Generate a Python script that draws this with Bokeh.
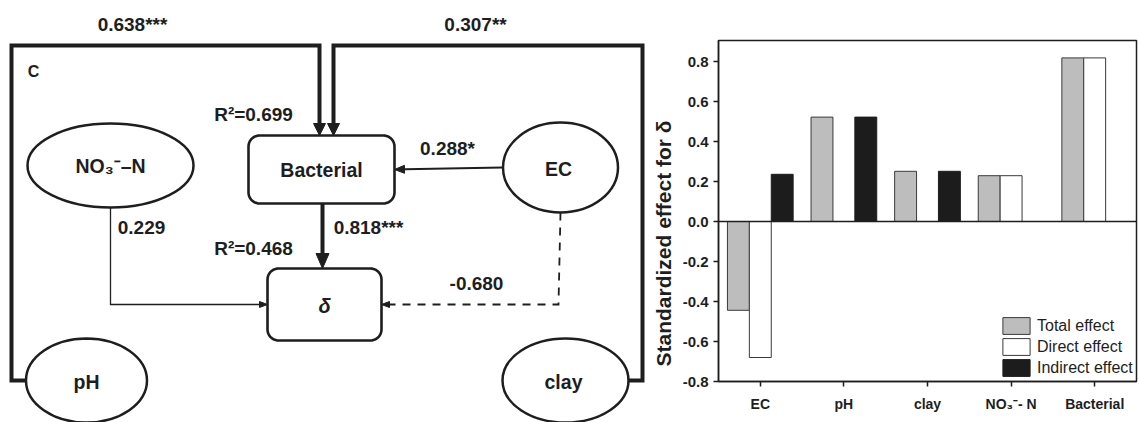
import numpy as np
from bokeh.plotting import figure
from bokeh.models import (Range1d, FixedTicker, NumeralTickFormatter, Legend, LegendItem,
                          Label, ColumnDataSource, LinearAxis)
from bokeh.core.properties import value
from bokeh.embed import file_html
from bokeh.resources import INLINE

# ---------------- data: standardized effects for delta (bar chart) ----------------
categories = ["EC", "pH", "clay", "NO₃⁻- N", "Bacterial"]
total_effect = [-0.444, 0.522, 0.251, 0.229, 0.818]
direct_effect = [-0.680, 0.0, 0.0, 0.229, 0.818]
indirect_effect = [0.236, 0.522, 0.251, 0.0, 0.0]
series_names = ["Total effect", "Direct effect", "Indirect effect"]
y_ticks = [-0.8, -0.6, -0.4, -0.2, 0.0, 0.2, 0.4, 0.6, 0.8]
y_axis_title = "Standardized effect for δ"

# ---------------- data: path diagram ----------------
node_names = ["NO₃⁻–N", "EC", "pH", "clay", "Bacterial", "δ"]
path_from = ["pH", "clay", "EC", "Bacterial", "NO₃⁻–N", "EC"]
path_to = ["Bacterial", "Bacterial", "Bacterial", "δ", "δ", "δ"]
path_coef = ["0.638***", "0.307**", "0.288*", "0.818***", "0.229", "-0.680"]
r2_labels = ["R²=0.699", "R²=0.468"]
panel_letter = "C"

# ---------------- styling / layout ----------------
W_PX, H_PX = 1139, 422
INK = "#1e1e1e"
FONT = "Liberation Sans"
# bar-chart frame in canvas pixels (left, top, right, bottom) and its value extents
BF = (718, 40, 1136, 381)
BX = (-0.5, 4.5)
BY = (-0.8, 0.905)
ELLIPSES = {"NO₃⁻–N": (110, 165, 166, 84), "EC": (560, 167, 115, 90),
            "pH": (86, 380, 121, 84), "clay": (565, 380, 126, 84)}
BOXES = {"Bacterial": (248, 135, 394, 203), "δ": (267, 268, 381, 340)}


def rounded_rect(x0, y0, x1, y1, r, n=10):
    xs, ys = [], []
    for cx, cy, a0 in [(x1 - r, y0 + r, -90), (x1 - r, y1 - r, 0),
                       (x0 + r, y1 - r, 90), (x0 + r, y0 + r, 180)]:
        for a in np.linspace(np.radians(a0), np.radians(a0 + 90), n):
            xs.append(cx + r * np.cos(a))
            ys.append(cy + r * np.sin(a))
    return xs, ys


def head(tip, d, L, W):
    tx, ty = tip
    dx, dy = d
    bx, by = tx - dx * L, ty - dy * L
    px, py = -dy, dx
    return ([tx, bx + px * W / 2, bx - px * W / 2],
            [ty, by + py * W / 2, by - py * W / 2]), (bx, by)


def ell(name, side):
    cx, cy, w, h = ELLIPSES[name]
    return {"left": (cx - w / 2, cy), "right": (cx + w / 2, cy),
            "bottom": (cx, cy + h / 2), "top": (cx, cy - h / 2)}[side]


p = figure(width=W_PX, height=H_PX, x_range=Range1d(0, W_PX), y_range=Range1d(H_PX, 0),
           output_backend="svg", toolbar_location=None, x_axis_location=None,
           y_axis_location=None, min_border=0, outline_line_color=None)
p.xgrid.visible = False
p.ygrid.visible = False

# extra ranges so that the bar chart values map onto the frame rectangle BF
ppx = (BF[2] - BF[0]) / (BX[1] - BX[0])
ppy = (BF[3] - BF[1]) / (BY[1] - BY[0])
p.extra_x_ranges = {"bx": Range1d(BX[0] - BF[0] / ppx, BX[1] + (W_PX - BF[2]) / ppx)}
p.extra_y_ranges = {"by": Range1d(BY[0] - (H_PX - BF[3]) / ppy, BY[1] + BF[1] / ppy)}

# ---------------- path diagram ----------------
bac = BOXES["Bacterial"]
dlt = BOXES["δ"]
bac_cx = (bac[0] + bac[2]) / 2 + 1
edge_geom = [
    ([ell("pH", "left"), (11, 380), (11, 45), (319, 45), (319, bac[1])], 4, "solid", 12, 12),
    ([ell("clay", "right"), (642, 380), (642, 45), (333, 45), (333, bac[1])], 4, "solid", 12, 12),
    ([ell("EC", "left"), (bac[2], 169)], 2, "solid", 10, 8),
    ([(bac_cx, bac[3]), (bac_cx, dlt[1])], 4, "solid", 15, 13),
    ([ell("NO₃⁻–N", "bottom"), (110, 304), (dlt[0], 304)], 1.3, "solid", 8, 6),
    ([ell("EC", "bottom"), (558, 304), (dlt[2], 304)], 1.8, "8 7", 8, 6),
]
for pts, lw, dash, L, W in edge_geom:
    tip = pts[-1]
    prev = pts[-2]
    d = np.array(tip, float) - np.array(prev, float)
    d = d / np.linalg.norm(d)
    (hxs, hys), base = head(tip, d, L, W)
    xs = [q[0] for q in pts[:-1]] + [base[0]]
    ys = [q[1] for q in pts[:-1]] + [base[1]]
    p.line(xs, ys, line_width=lw, line_color=INK, line_dash=dash, line_join="miter")
    p.patch(hxs, hys, fill_color=INK, line_color=INK, line_width=1)

for name, (cx, cy, w, h) in ELLIPSES.items():
    p.ellipse(x=[cx], y=[cy], width=[w], height=[h], fill_color="white",
              line_color=INK, line_width=2.5)
for name, (x0, y0, x1, y1) in BOXES.items():
    xs, ys = rounded_rect(x0, y0, x1, y1, 11)
    p.patch(xs, ys, fill_color="white", line_color=INK, line_width=2.6)

node_pos = {"NO₃⁻–N": (110, 165), "EC": (558, 168), "pH": (86, 381),
            "clay": (563, 381), "Bacterial": (321, 169)}
src_nodes = ColumnDataSource(dict(x=[node_pos[n][0] for n in node_names if n in node_pos],
                                  y=[node_pos[n][1] for n in node_names if n in node_pos],
                                  t=[n for n in node_names if n in node_pos]))
p.text(x="x", y="y", text="t", source=src_nodes, text_align="center",
       text_baseline="middle", text_font=value(FONT), text_font_style="bold",
       text_font_size="19.5px", text_color=INK)
p.text(x=[(dlt[0] + dlt[2]) / 2], y=[305], text=["δ"], text_align="center",
       text_baseline="middle", text_font=value(FONT), text_font_style="bold italic",
       text_font_size="20px", text_color=INK)

coef_pos = [(132, 24), (475, 24), (447, 148), (368, 227), (141, 227), (476, 283)]
for (cx, cy), t in zip(coef_pos, path_coef):
    p.text(x=[cx], y=[cy], text=[t], text_align="center", text_baseline="middle",
           text_font=value(FONT), text_font_style="bold", text_font_size="19px",
           text_color=INK)
for (cx, cy), t in zip([(253, 114), (253, 248)], r2_labels):
    p.text(x=[cx], y=[cy], text=[t], text_align="center", text_baseline="middle",
           text_font=value(FONT), text_font_style="bold", text_font_size="19px",
           text_color=INK)
p.text(x=[33], y=[71], text=[panel_letter], text_align="center", text_baseline="middle",
       text_font=value(FONT), text_font_style="bold", text_font_size="16px",
       text_color=INK)

# ---------------- bar chart ----------------
xpos = np.arange(len(categories))
bw = 0.262
src = ColumnDataSource(dict(xt=xpos - bw, xd=xpos, xi=xpos + bw, total=total_effect,
                            direct=direct_effect, indirect=indirect_effect))
rng = dict(x_range_name="bx", y_range_name="by")
r_t = p.vbar(x="xt", top="total", bottom=0, width=bw, source=src,
             fill_color="#bdbdbd", line_color="#3a3a3a", line_width=1, **rng)
r_d = p.vbar(x="xd", top="direct", bottom=0, width=bw, source=src,
             fill_color="white", line_color="#3a3a3a", line_width=1, **rng)
r_i = p.vbar(x="xi", top="indirect", bottom=0, width=bw, source=src,
             fill_color="#1c1c1c", line_color="#1c1c1c", line_width=1, **rng)
p.segment(x0=[BX[0]], y0=[0], x1=[BX[1]], y1=[0], line_color=INK, line_width=1.5, **rng)
p.quad(left=[BX[0]], right=[BX[1]], bottom=[BY[0]], top=[BY[1]], fill_color=None,
       line_color=INK, line_width=1.5, **rng)

xax = LinearAxis(x_range_name="bx", y_range_name="by", fixed_location=BY[0],
                 ticker=FixedTicker(ticks=[int(i) for i in xpos]),
                 major_label_overrides={int(i): c for i, c in zip(xpos, categories)})
yax = LinearAxis(x_range_name="bx", y_range_name="by", fixed_location=BX[0],
                 ticker=FixedTicker(ticks=y_ticks), formatter=NumeralTickFormatter(format="0.0"),
                 bounds=BY)
for ax in (xax, yax):
    ax.axis_line_color = INK
    ax.axis_line_width = 1.5
    ax.major_tick_line_color = INK
    ax.major_tick_line_width = 1.5
    ax.major_tick_out = 5
    ax.major_tick_in = 0
    ax.minor_tick_out = 0
    ax.minor_tick_in = 0
    ax.major_label_text_font = FONT
    ax.major_label_text_font_style = "bold"
    ax.major_label_text_color = INK
xax.bounds = BX
xax.major_label_text_font_size = "14px"
xax.major_label_standoff = 9
yax.major_label_text_font_size = "15px"
yax.major_label_standoff = 5
p.add_layout(xax, "below")
p.add_layout(yax, "left")

p.add_layout(Label(x=663, y=243, text=y_axis_title, angle=np.pi / 2,
                   text_align="center", text_baseline="middle", text_font=FONT,
                   text_font_style="bold", text_font_size="21px", text_color=INK))

legend = Legend(items=[LegendItem(label=series_names[0], renderers=[r_t]),
                       LegendItem(label=series_names[1], renderers=[r_d]),
                       LegendItem(label=series_names[2], renderers=[r_i])],
                location=(999, H_PX - 378), border_line_color=None, background_fill_alpha=0,
                glyph_width=34, glyph_height=21, label_text_font=FONT,
                label_text_font_size="16px", label_text_color=INK, spacing=0, padding=0,
                margin=0, label_standoff=4)
p.add_layout(legend)

open("out.html", "w").write(file_html(p, INLINE))
